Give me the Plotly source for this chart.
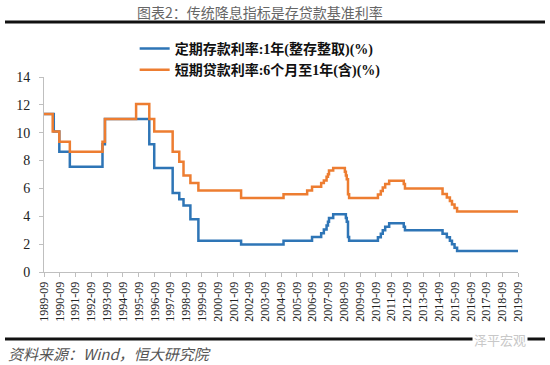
import plotly.graph_objects as go

# ---- data: change dates of the benchmark rates (%), step series ----
dep_dates = ["1989-09-01", "1990-04-15", "1990-08-21", "1991-04-21", "1993-05-15", "1993-07-11",
             "1996-05-01", "1996-08-23", "1997-10-23", "1998-03-25", "1998-07-01", "1998-12-07",
             "1999-06-10", "2002-02-21", "2004-10-29", "2006-08-19", "2007-03-18", "2007-05-19",
             "2007-07-21", "2007-08-22", "2007-09-15", "2007-12-21", "2008-10-09", "2008-10-30",
             "2008-11-27", "2008-12-23", "2010-10-20", "2010-12-26", "2011-02-09", "2011-04-06",
             "2011-07-07", "2012-06-08", "2012-07-06", "2014-11-22", "2015-03-01", "2015-05-11",
             "2015-06-28", "2015-08-26", "2015-10-24", "2019-09-01"]
dep_rates = [11.34, 10.08, 8.64, 7.56, 9.18, 10.98,
             9.18, 7.47, 5.67, 5.22, 4.77, 3.78,
             2.25, 1.98, 2.25, 2.52, 2.79, 3.06,
             3.33, 3.60, 3.87, 4.14, 3.87, 3.60,
             2.52, 2.25, 2.50, 2.75, 3.00, 3.25,
             3.50, 3.25, 3.00, 2.75, 2.50, 2.25,
             2.00, 1.75, 1.50, 1.50]

loan_dates = ["1989-09-01", "1990-03-21", "1990-08-21", "1991-04-21", "1993-05-15", "1993-07-11",
              "1995-07-01", "1996-05-01", "1996-08-23", "1997-10-23", "1998-03-25", "1998-07-01",
              "1998-12-07", "1999-06-10", "2002-02-21", "2004-10-29", "2006-04-28", "2006-08-19",
              "2007-03-18", "2007-05-19", "2007-07-21", "2007-08-22", "2007-09-15", "2007-12-21",
              "2008-09-16", "2008-10-09", "2008-10-30", "2008-11-27", "2008-12-23", "2010-10-20",
              "2010-12-26", "2011-02-09", "2011-04-06", "2011-07-07", "2012-06-08", "2012-07-06",
              "2014-11-22", "2015-03-01", "2015-05-11", "2015-06-28", "2015-08-26", "2015-10-24",
              "2019-09-01"]
loan_rates = [11.34, 10.08, 9.36, 8.64, 9.36, 10.98,
              12.06, 10.98, 10.08, 8.64, 7.92, 6.93,
              6.39, 5.85, 5.31, 5.58, 5.85, 6.12,
              6.39, 6.57, 6.84, 7.02, 7.29, 7.47,
              7.20, 6.93, 6.66, 5.58, 5.31, 5.56,
              5.81, 6.06, 6.31, 6.56, 6.31, 6.00,
              5.60, 5.35, 5.10, 4.85, 4.60, 4.35,
              4.35]

tick_dates = [f"{y}-09-01" for y in range(1989, 2020)]
tick_labels = [f"{y}-09" for y in range(1989, 2020)]
y_ticks = [0, 2, 4, 6, 8, 10, 12, 14]

series_names = ["定期存款利率:1年(整存整取)(%)", "短期贷款利率:6个月至1年(含)(%)"]
title_text = "图表2：传统降息指标是存贷款基准利率"
source_text = "资料来源：Wind，恒大研究院"
watermark_text = "泽平宏观"

SERIF = "Liberation Serif, Times New Roman, Noto Sans CJK SC, serif"
CJK = "Noto Sans CJK SC, sans-serif"

fig = go.Figure()
fig.add_trace(go.Scatter(x=dep_dates, y=dep_rates, mode="lines", line_shape="hv",
                         name=series_names[0], line=dict(color="#2E75B6", width=2.5)))
fig.add_trace(go.Scatter(x=loan_dates, y=loan_rates, mode="lines", line_shape="hv",
                         name=series_names[1], line=dict(color="#ED7D31", width=2.5)))

L, R, T, B = 44, 32, 77, 93
W, H = 550, 365
pw, ph = W - L - R, H - T - B

def px(x):
    return (x - L) / pw

def py(y):
    return (H - B - y) / ph

fig.update_layout(
    width=W, height=H,
    margin=dict(l=L, r=R, t=T, b=B, autoexpand=False),
    paper_bgcolor="white", plot_bgcolor="white",
    showlegend=True,
    legend=dict(orientation="v", xref="container", yref="container",
                x=0.473, xanchor="center", y=1 - 33 / H, yanchor="top",
                font=dict(family=SERIF, size=14, color="#111", weight="bold"),
                itemwidth=30, tracegroupgap=0, bgcolor="rgba(0,0,0,0)"),
    xaxis=dict(type="date", range=["1989-09-01", "2019-09-01"],
               tickvals=tick_dates, ticktext=tick_labels, tickangle=-90,
               showgrid=False, showline=True, linecolor="#BFBFBF", linewidth=1,
               ticks="outside", ticklen=4, tickcolor="#BFBFBF",
               tickfont=dict(family=SERIF, size=12, color="#222")),
    yaxis=dict(range=[0, 14], tickvals=y_ticks, showgrid=False, zeroline=False,
               showline=True, linecolor="#BFBFBF", linewidth=1,
               ticks="outside", ticklen=4, tickcolor="#BFBFBF",
               ticklabelstandoff=6,
               tickfont=dict(family=SERIF, size=14, color="#222")),
    shapes=[
        dict(type="line", xref="paper", yref="paper", x0=px(5), x1=px(545),
             y0=py(22), y1=py(22), line=dict(color="#111", width=3)),
        dict(type="line", xref="paper", yref="paper", x0=px(5), x1=px(545),
             y0=py(339), y1=py(339), line=dict(color="#111", width=3)),
    ],
    annotations=[
        dict(text=title_text, xref="paper", yref="paper", x=px(260), y=py(12),
             xanchor="center", yanchor="middle", showarrow=False,
             font=dict(family=CJK, size=14, color="#666")),
        dict(text=source_text, xref="paper", yref="paper", x=px(6), y=py(353),
             xanchor="left", yanchor="middle", showarrow=False,
             font=dict(family=CJK, size=15, color="#555", style="italic")),
        dict(text=watermark_text, xref="paper", yref="paper", x=px(500), y=py(339),
             xanchor="center", yanchor="middle", showarrow=False, bgcolor="white",
             font=dict(family=CJK, size=13, color="#C8C8C8")),
    ],
)

fig.write_html("out.html", config={"displayModeBar": False},
               post_script="document.body.style.margin='0';")
